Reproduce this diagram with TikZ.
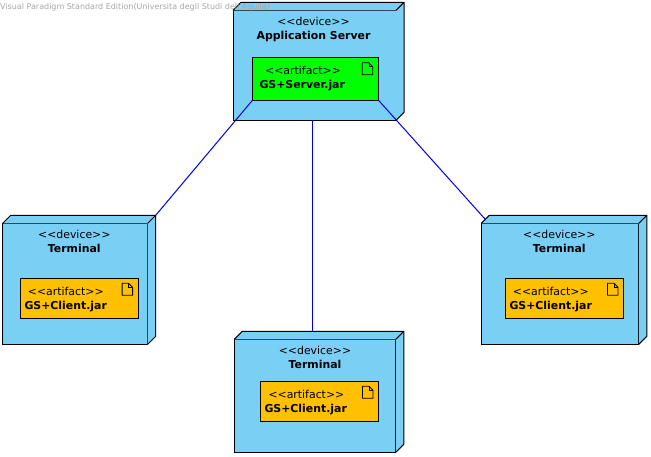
\documentclass[tikz,border=0pt]{standalone}
\usepackage{fontspec}
\setmainfont{DejaVu Sans}
\definecolor{devblue}{HTML}{7ACFF5}
\definecolor{jarorange}{HTML}{FFC000}
\definecolor{jargreen}{HTML}{00FF00}
\definecolor{linkblue}{HTML}{0000E6}
\tikzset{
    device/.style={draw,fill=devblue,line width=1pt,inner sep=0pt,outer sep=0pt},
    artifact/.style={draw,line width=0.8pt,inner sep=0pt,outer sep=0pt},
    stereo/.style={anchor=base,inner sep=0pt,font=\fontsize{10.9}{13}\selectfont},
    title/.style={anchor=base,inner sep=0pt,font=\fontsize{10.9}{13}\selectfont\bfseries},
    link/.style={draw=linkblue,line width=1pt}
}
\begin{document}
\begin{tikzpicture}[x=1pt,y=-1pt]
    \useasboundingbox (0, 0) rectangle (651, 457);

    \node[device,minimum width=163pt,minimum height=110pt] (appdev) at (314.5, 65.3) {};
    \node[device,minimum width=145pt,minimum height=121pt] (termleft) at (75.2, 283.8) {};
    \node[device,minimum width=161.5pt,minimum height=113pt] (termmid) at (315, 395.8) {};
    \node[device,minimum width=157.5pt,minimum height=121pt] (termright) at (560, 283.8) {};

    \foreach \n in {appdev,termleft,termmid,termright} {
        \fill[devblue] (\n.north west) -- ++(8, -8) -- ([shift={(8, -8)}]\n.north east) -- ([shift={(8, -8)}]\n.south east) -- (\n.south east) -- (\n.north east) -- cycle;
        \draw[line width=1pt,line join=round] (\n.north west) -- ++(8, -8) -- ([shift={(8, -8)}]\n.north east) -- ([shift={(8, -8)}]\n.south east) -- (\n.south east);
        \draw[line width=1pt] (\n.north east) -- ([shift={(8, -8)}]\n.north east);
        \coordinate (\n-back) at ([shift={(8, -8)}]\n.north east);
        \coordinate (\n-corner) at ([shift={(4, -4)}]\n.north west);
    }
    \coordinate (apptop) at (312.5, 120.3);
    \coordinate (midtop) at (312.5, 331.3);

    \node[artifact,fill=jargreen,minimum width=126pt,minimum height=42.5pt] (appjar) at (315.5, 79) {};
    \node[artifact,fill=jarorange,minimum width=118pt,minimum height=40pt] (leftjar) at (79.3, 298.3) {};
    \node[artifact,fill=jarorange,minimum width=118.4pt,minimum height=40pt] (midjar) at (319.5, 401.3) {};
    \node[artifact,fill=jarorange,minimum width=118.4pt,minimum height=40pt] (rightjar) at (564.5, 298.3) {};

    \foreach \n in {appjar,leftjar,midjar,rightjar} {
        \draw[line width=0.8pt,line join=round] ([shift={(-16.2, 5)}]\n.north east) -- ++(6.5, 0) -- ++(4, 4) -- ++(0, 8) -- ++(-10.5, 0) -- cycle;
        \draw[line width=0.6pt] ([shift={(-9.7, 5)}]\n.north east) -- ++(0, 4) -- ++(4, 0);
    }

    \draw[link] (appjar.south west) -- (termleft-back);
    \draw[link] (appjar.south east) -- (termright-corner);
    \draw[link] (apptop) -- (midtop);

    \node[stereo] (appstereo) at (313.5, 25.6) {{<}{<}device{>}{>}};
    \node[title] (apptitle) at (313.5, 39.8) {Application Server};
    \node[stereo,anchor=base west] (appjarstereo) at (265, 74.5) {{<}{<}artifact{>}{>}};
    \node[title,anchor=base west] (appjartitle) at (259.3, 88.8) {GS+Server.jar};

    \node[stereo] (leftstereo) at (74.3, 238.3) {{<}{<}device{>}{>}};
    \node[title] (lefttitle) at (74.3, 252.3) {Terminal};
    \node[stereo,anchor=base west] (leftjarstereo) at (27.7, 295.5) {{<}{<}artifact{>}{>}};
    \node[title,anchor=base west] (leftjartitle) at (24.3, 309.5) {GS+Client.jar};

    \node[stereo] (midstereo) at (315, 354.6) {{<}{<}device{>}{>}};
    \node[title] (midtitle) at (315, 368.3) {Terminal};
    \node[stereo,anchor=base west] (midjarstereo) at (268.3, 398.5) {{<}{<}artifact{>}{>}};
    \node[title,anchor=base west] (midjartitle) at (264.3, 412.5) {GS+Client.jar};

    \node[stereo] (rightstereo) at (559.3, 238.3) {{<}{<}device{>}{>}};
    \node[title] (righttitle) at (559.3, 252.3) {Terminal};
    \node[stereo,anchor=base west] (rightjarstereo) at (512.7, 295.5) {{<}{<}artifact{>}{>}};
    \node[title,anchor=base west] (rightjartitle) at (509.3, 309.5) {GS+Client.jar};

    \node[anchor=base west,inner sep=0pt,text=gray!70,font=\fontsize{8}{9}\selectfont] (watermark) at (0, 9.5) {Visual Paradigm Standard Edition(Universita degli Studi dell'Aquila)};
\end{tikzpicture}
\end{document}
